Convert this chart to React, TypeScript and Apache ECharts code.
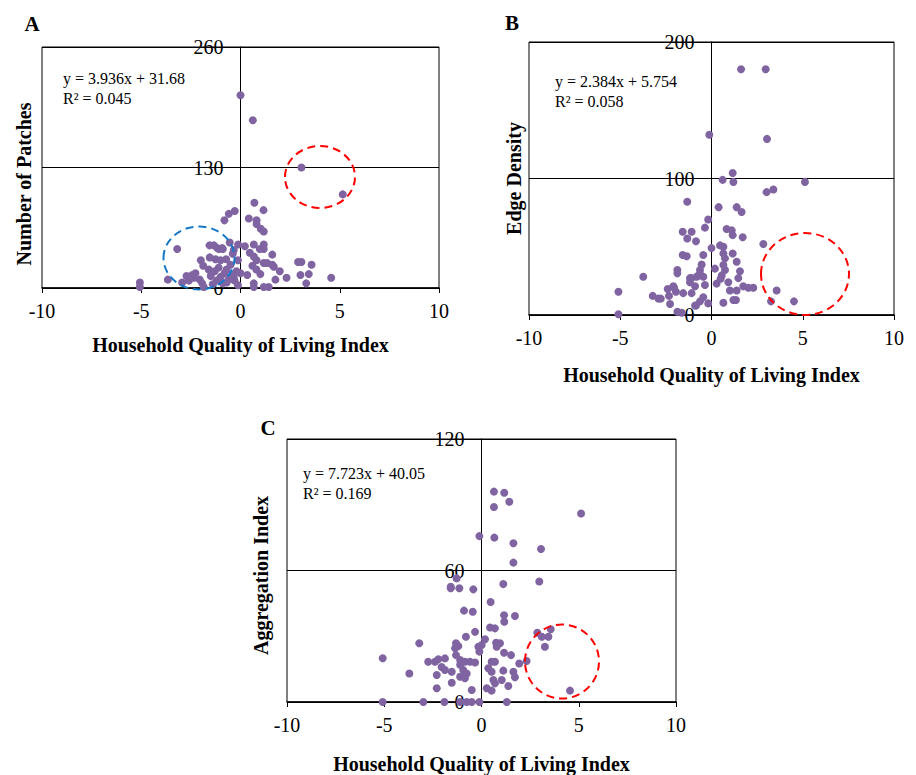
import React, { useEffect, useRef } from "react";
import * as echarts from "echarts";

const FONT = "Liberation Serif, Times New Roman, serif";
const DOT = "#8064A2";

const xTitle = "Household Quality of Living Index";
const panelLetters = ["A", "B", "C"];
const yTitles = ["Number of Patches", "Edge Density", "Aggregation Index"];
const equations = ["y = 3.936x + 31.68", "y = 2.384x + 5.754", "y = 7.723x + 40.05"];
const rSquared = ["R² = 0.045", "R² = 0.058", "R² = 0.169"];
const yMax = [260, 200, 120];
const yStep = [130, 100, 60];

// Panel A: Number of Patches
const aX = [-5.07, -5.07, -3.66, -3.19, -2.94, -2.72, -2.35, -2.27, -2.05, -1.93, -1.85, -2.0, -1.88,
  -1.56, -1.34, -1.09, -0.89, -0.54, -0.39, -1.55, -1.26, -1.0, -0.72, -1.6, -1.5, -1.3, -1.1, -1.0,
  -0.8, -0.7, -0.5, -0.4, -0.3, -0.2, -0.13, -0.9, -0.6, -1.2, -0.59, -0.81, -0.29, 0, 0.62, -0.13,
  -0.12, 0.22, 0.42, 0.7, 0.81, 0.81, 1.02, 1.17, 1.16, 0.67, 1.17, 1.17, 0.97, 0.47, 1.6, 0.67, 0.81,
  1.17, 1.34, 1.6, 1.68, 1.98, 2.32, 0, 0.34, -0.34, 0.67, 0.67, 1.17, 1.42, 1.76, 0.8, 1.0, 0.6, 2.9,
  3.07, 3.58, 3.02, 3.44, 3.31, 4.57, 3.07, 5.15, -0.7, -2.6, -1.4, -2.43, -1.17, -0.92, -0.34];
const aY = [6, 1, 9, 42, 6, 13, 11, 16, 9, 5, 1, 30, 24,
  46, 46, 42, 42, 49, 37, 33, 31, 30, 31, 20, 13, 18, 22, 12,
  16, 20, 25, 14, 8, 18, 3, 5, 9, 8, 80, 73, 83, 208, 181, 30,
  47, 45, 75, 92, 73, 69, 64, 61, 84, 47, 47, 42, 42, 38, 36, 34, 30,
  27, 27, 25, 23, 18, 11, 16, 14, 12, 5, 1, 1, 1, 9, 20, 15, 24, 28,
  28, 25, 14, 15, 5, 11, 130, 101, 6, 8, 4, 14, 43, 43, 41];

// Panel B: Edge Density
const bX = [-5.1, -5.1, -3.74, -3.22, -2.91, -2.78, -2.4, -2.33, -2.27, -2.09, -1.95, -1.87, -1.63,
  -1.87, -1.87, -1.58, -1.36, -1.58, -1.33, -1.09, -0.85, -1.33, -1.55, -1.18, -1.09, -0.9, -0.72,
  -0.63, -0.54, -0.45, -0.36, -0.85, -0.45, -0.18, -0.36, -0.18, 0, 0.19, 0.28, 0.39, 0.47, 0.65, 0.65,
  0.74, 0.65, 0.74, 0.56, 0.92, 1.01, 1.2, 1.34, 0.65, 1.38, 1.47, 1.56, 1.16, 1.38, 1.74, 2.02, 2.29,
  0.83, 1.11, 1.16, 1.71, 1.38, 1.65, 0.61, 1.16, 1.2, 3.02, 3.39, 5.12, 2.84, 3.57, 3.26, 4.52, 1.62,
  2.97, -0.12, 3.04, -0.81, -1.09, -1.18, -0.63, -0.9, -0.63, -0.45, 0.5, -2.05];
const bY = [17, 0.5, 28, 14, 12, 12, 19, 14, 8, 21, 17, 2.4, 1.7,
  33, 30.5, 44, 43, 61, 56, 61, 54, 83, 16, 27, 16, 21, 29,
  33, 37, 44, 22, 7, 28, 8.5, 64, 70, 49, 34, 23, 79, 51, 50, 45,
  41.5, 36.6, 33, 29, 24, 18, 11, 11, 9, 18, 27, 32, 45, 39, 21, 20, 20,
  63, 62, 58.5, 57, 79, 75.5, 99, 104, 97.5, 90, 92, 97.5, 52, 18, 10, 10, 180,
  180, 132, 129, 28, 27, 24, 30, 7, 10, 13, 26.5, 20];

// Panel C: Aggregation Index
const cX = [0.64, 1.17, 1.43, 0.64, 5.12, -0.11, 0.66, 1.64, 3.06, 1.64, 2.97, 1.12, -1.28, -1.58,
  -1.58, -1.14, -0.42, 0.47, -0.9, -0.45, 1.16, 1.17, 1.72, 0.44, 0.69, -0.33, -0.8, 0.18, -3.2, -1.31,
  -1.19, -1.36, -1.31, -1.1, -0.16, -0.11, 0.01, 0.75, 0.95, 0.78, 1.16, 1.52, 2.87, 3.1, 3.44, 3.56,
  3.26, 2.32, 1.94, -5.08, -3.71, -2.74, -2.39, -2.22, -1.88, -2.05, -2.3, -1.88, -1.53, -1.53, -2.3,
  -1.1, -0.85, -0.59, -0.33, -0.94, -0.76, -1.1, -0.85, -0.5, 0.52, 0.69, 0.35, 0.52, 0.61, 1.12, 1.04,
  0.69, 0.27, 0.52, 1.38, 1.64, 1.72, 1.3, 4.55, -5.08, -2.99, -1.91, -1.1, -0.76, -0.5, -0.11];
const cY = [96, 95.5, 91.4, 89, 86, 75.7, 75, 72.4, 69.8, 63.6, 55, 53.8, 56.4, 52.6,
  51.9, 51.9, 51.4, 45.6, 41.7, 41.2, 39.6, 36.6, 39.2, 34, 33.6, 32, 29.8, 28.6, 26.8, 26.8,
  25.5, 24.5, 21.4, 19.2, 25.2, 23, 26, 27, 26.8, 25.2, 22.5, 21.4, 31.6, 29.8, 29.8, 33.2,
  25.2, 18.7, 17.6, 20, 13, 18.4, 18.4, 19.5, 19.9, 16, 12.3, 14.6, 13.8, 8.8, 6.3,
  17, 18.4, 18.4, 18, 14.6, 13, 11.5, 10.8, 5.5, 18.4, 18.4, 15.4, 13.8, 10, 14.3, 10,
  8.5, 6.3, 5.2, 7.3, 13.8, 11.3, 0, 5.2, 0, 0, 0, 0, 0, 0, 0];

const zip = (xs: number[], ys: number[]) => xs.map((x, i) => [x, ys[i]]);
const seriesData = [zip(aX, aY), zip(bX, bY), zip(cX, cY)];

export default function App() {
  const ref = useRef<HTMLDivElement>(null);
  useEffect(() => {
    const chart = echarts.init(ref.current!, null, { renderer: "svg" });
    const grids = [
      { left: 42, top: 47, width: 397, height: 241 },
      { left: 529, top: 42, width: 365, height: 273 },
      { left: 287, top: 439, width: 389, height: 263 },
    ];
    const nameGaps = [47, 50, 52];
    const xAxis = grids.map((_, i) => ({
      type: "value",
      gridIndex: i,
      min: -10,
      max: 10,
      interval: 5,
      axisLine: { onZero: true, lineStyle: { color: "#000", width: 1.5 } },
      axisTick: { show: true, length: 5, lineStyle: { color: "#000" } },
      axisLabel: { color: "#000", fontFamily: FONT, fontSize: 20, margin: 13, showMinLabel: true, showMaxLabel: true },
      splitLine: { show: false },
      name: xTitle,
      nameLocation: "middle",
      nameGap: nameGaps[i],
      nameTextStyle: { fontFamily: FONT, fontWeight: "bold", fontSize: 20, color: "#000" },
    }));
    // y axis sits on x = 0 (middle of the symmetric -10..10 range), labels included
    const yAxis = grids.map((g, i) => ({
      type: "value",
      gridIndex: i,
      position: "left",
      offset: -g.width / 2,
      min: 0,
      max: yMax[i],
      interval: yStep[i],
      axisLine: { show: true, onZero: false, lineStyle: { color: "#000", width: 1 } },
      axisTick: { show: true, length: 5, lineStyle: { color: "#000" } },
      axisLabel: { color: "#000", fontFamily: FONT, fontSize: 20, margin: 17, showMinLabel: true, showMaxLabel: true },
      splitLine: { show: true, lineStyle: { color: "#000", width: 1 } },
    }));
    const series = seriesData.map((d, i) => ({
      type: "scatter",
      xAxisIndex: i,
      yAxisIndex: i,
      data: d,
      symbol: "circle",
      symbolSize: 8,
      itemStyle: { color: DOT, opacity: 1 },
      z: 3,
    }));
    const letterPos = [[32, 24], [512, 23], [268, 428]];
    const eqPos = [[63, 78.5], [555, 81], [303, 473.5]];
    const yTitlePos = [[23.5, 184], [513.5, 178.5], [261, 575.5]];
    const graphic: any[] = [];
    for (let i = 0; i < 3; i++) {
      graphic.push({
        type: "text", x: letterPos[i][0], y: letterPos[i][1], z: 10,
        style: { text: panelLetters[i], font: `bold 21px ${FONT}`, fill: "#000", align: "center", verticalAlign: "middle" },
      });
      graphic.push({
        type: "text", x: eqPos[i][0], y: eqPos[i][1], z: 10,
        style: { text: equations[i], font: `16px ${FONT}`, fill: "#000", align: "left", verticalAlign: "middle" },
      });
      graphic.push({
        type: "text", x: eqPos[i][0], y: eqPos[i][1] + 20, z: 10,
        style: { text: rSquared[i], font: `16px ${FONT}`, fill: "#000", align: "left", verticalAlign: "middle" },
      });
      graphic.push({
        type: "text", x: yTitlePos[i][0], y: yTitlePos[i][1], rotation: Math.PI / 2, z: 10,
        style: { text: yTitles[i], font: `bold 20px ${FONT}`, fill: "#000", align: "center", verticalAlign: "middle" },
      });
    }
    const dash = [8, 5];
    const ellipses = [
      { cx: 320, cy: 177, rx: 35, ry: 31, c: "#FF0000" },
      { cx: 199, cy: 258, rx: 35.5, ry: 31.5, c: "#1478C8" },
      { cx: 805, cy: 274, rx: 44, ry: 41, c: "#FF0000" },
      { cx: 562, cy: 661.5, rx: 37, ry: 37, c: "#FF0000" },
    ];
    ellipses.forEach((e) =>
      graphic.push({
        type: "ellipse", z: 20,
        shape: { cx: e.cx, cy: e.cy, rx: e.rx, ry: e.ry },
        style: { fill: "none", stroke: e.c, lineWidth: 2, lineDash: dash },
      })
    );
    chart.setOption({
      animation: false,
      backgroundColor: "#fff",
      grid: grids.map((g) => ({ ...g, show: true, borderColor: "#000", borderWidth: 1, backgroundColor: "transparent", containLabel: false })),
      xAxis,
      yAxis,
      series,
      graphic,
    });
    return () => chart.dispose();
  }, []);
  return <div ref={ref} style={{ position: "fixed", left: 0, top: 0, width: 916, height: 775, background: "#fff" }} />;
}
